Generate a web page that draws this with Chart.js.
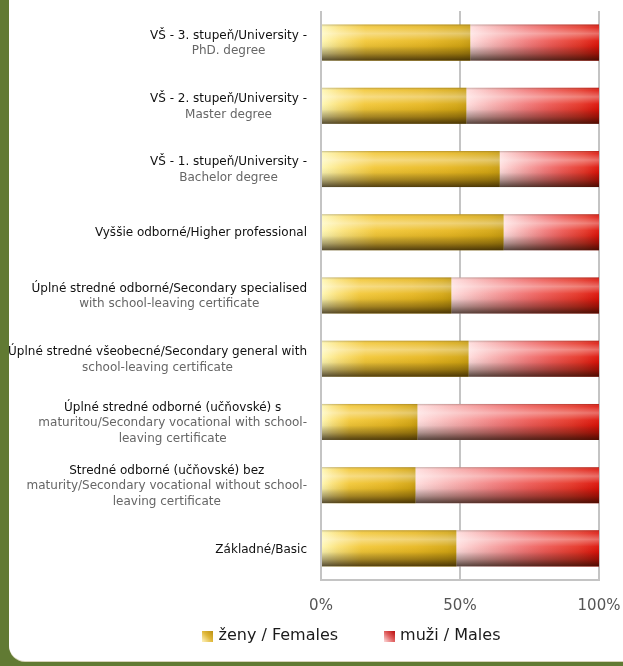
<!DOCTYPE html>
<html>
<head>
<meta charset="utf-8">
<script src="https://cdn.jsdelivr.net/npm/chart.js@4.4.1/dist/chart.umd.min.js"></script>
<style>
  html, body { margin: 0; padding: 0; background: #ffffff; }
  #frame { position: relative; width: 623px; height: 666px; background: #617a33; overflow: hidden; }
  #inner { position: absolute; left: 9px; top: 0; width: 614px; height: 661px; background: #ffffff;
           border-bottom-left-radius: 16px; box-shadow: 0 1px 0 #d6d3b8; }
  #wrap { position: absolute; left: 0; top: 0; width: 623px; height: 666px; }
</style>
</head>
<body>
<div id="frame">
  <div id="inner"></div>
  <div id="wrap"><canvas id="c" width="623" height="666"></canvas></div>
</div>
<script>
// ---- data ----
const categories = [
  ["VŠ - 3. stupeň/University -", "PhD. degree"],
  ["VŠ - 2. stupeň/University -", "Master degree"],
  ["VŠ - 1. stupeň/University -", "Bachelor degree"],
  ["Vyššie odborné/Higher professional"],
  ["Úplné stredné odborné/Secondary specialised", "with school-leaving certificate"],
  ["Úplné stredné všeobecné/Secondary general with", "school-leaving certificate"],
  ["Úplné stredné odborné (učňovské) s", "maturitou/Secondary vocational with school-", "leaving certificate"],
  ["Stredné odborné (učňovské) bez", "maturity/Secondary vocational without school-", "leaving certificate"],
  ["Základné/Basic"]
];
const females = [53.7, 52.3, 64.3, 65.7, 46.9, 53.1, 34.7, 34.0, 48.7];
const males   = [46.3, 47.7, 35.7, 34.3, 53.1, 46.9, 65.3, 66.0, 51.3];
const seriesNames = ["ženy / Females", "muži / Males"];
const xTicks = [0, 50, 100];

// ---- styling helpers ----
const femaleStops = [[0, '#fff8b4'], [0.12, '#fbe27a'], [0.3, '#f3c838'], [0.7, '#e8b822'], [0.93, '#d6a814'], [1, '#c99d10']];
const maleStops   = [[0, '#ffdcdc'], [0.2, '#f8b0b0'], [0.45, '#f27a7a'], [0.62, '#ee5a55'], [0.85, '#e63628'], [1, '#dc1208']];

function segGradient(chart, x0, x1, stops) {
  const g = chart.ctx.createLinearGradient(x0, 0, x1, 0);
  stops.forEach(s => g.addColorStop(s[0], s[1]));
  return g;
}

function makeIcon(c1, c2, c3) {
  const cv = document.createElement('canvas');
  cv.width = 11; cv.height = 11;
  const cx = cv.getContext('2d');
  const g = cx.createLinearGradient(0, 11, 11, 0);
  g.addColorStop(0, c1); g.addColorStop(0.5, c2); g.addColorStop(1, c3);
  cx.fillStyle = g; cx.fillRect(0, 0, 11, 11);
  return cv;
}
const icons = [makeIcon('#fff4c0', '#e0b83a', '#b98e10'), makeIcon('#ffe0e0', '#e06060', '#b80808')];

// overlay vertical shading on each bar
const shadePlugin = {
  id: 'shade',
  afterDatasetsDraw(chart) {
    const ctx = chart.ctx;
    chart.data.datasets.forEach((ds, di) => {
      const meta = chart.getDatasetMeta(di);
      meta.data.forEach(el => {
        const p = el.getProps(['x', 'y', 'base', 'height'], true);
        const left = Math.min(p.x, p.base), w = Math.abs(p.x - p.base);
        const top = p.y - p.height / 2, h = p.height;
        const g = ctx.createLinearGradient(0, top, 0, top + h);
        g.addColorStop(0, 'rgba(60,50,40,0.30)');
        g.addColorStop(0.07, 'rgba(255,255,255,0.10)');
        g.addColorStop(0.25, 'rgba(255,255,255,0.38)');
        g.addColorStop(0.45, 'rgba(255,255,255,0.05)');
        g.addColorStop(0.6, 'rgba(0,0,0,0.06)');
        g.addColorStop(0.8, 'rgba(20,10,0,0.35)');
        g.addColorStop(1, 'rgba(20,10,0,0.72)');
        ctx.save();
        ctx.fillStyle = g;
        ctx.fillRect(left, top, w, h);
        ctx.restore();
      });
    });
  }
};

// category labels: first line dark, following lines grey, centred block right-aligned to axis
const labelPlugin = {
  id: 'catLabels',
  afterDraw(chart) {
    const ctx = chart.ctx;
    const ys = chart.scales.y;
    const right = chart.chartArea.left - 14;
    const lh = 15.5;
    ctx.save();
    ctx.font = '12px "DejaVu Sans"';
    ctx.textAlign = 'center';
    ctx.textBaseline = 'middle';
    chart.data.labels.forEach((lines, i) => {
      const yc = ys.getPixelForTick(i) + 1;
      let maxW = 0;
      lines.forEach(t => { maxW = Math.max(maxW, ctx.measureText(t).width); });
      const cx = right - maxW / 2;
      const y0 = yc - (lines.length - 1) * lh / 2;
      lines.forEach((t, k) => {
        ctx.fillStyle = k === 0 ? '#111111' : '#666666';
        ctx.fillText(t, cx, y0 + k * lh);
      });
    });
    ctx.restore();
  }
};

const PAD_L = 106, PAD_R = 24;

const chart = new Chart(document.getElementById('c'), {
  type: 'bar',
  data: {
    labels: categories,
    datasets: [
      {
        label: seriesNames[0],
        data: females,
        backgroundColor: (c) => {
          const ch = c.chart;
          if (!ch.chartArea || !ch.scales.x) return '#e8b822';
          const xs = ch.scales.x;
          return segGradient(ch, xs.getPixelForValue(0), xs.getPixelForValue(females[c.dataIndex]), femaleStops);
        },
        borderWidth: 0,
        barPercentage: 0.57,
        categoryPercentage: 1
      },
      {
        label: seriesNames[1],
        data: males,
        backgroundColor: (c) => {
          const ch = c.chart;
          if (!ch.chartArea || !ch.scales.x) return '#ee5a55';
          const xs = ch.scales.x;
          const s = females[c.dataIndex];
          return segGradient(ch, xs.getPixelForValue(s), xs.getPixelForValue(s + males[c.dataIndex]), maleStops);
        },
        borderWidth: 0,
        barPercentage: 0.57,
        categoryPercentage: 1
      }
    ]
  },
  options: {
    indexAxis: 'y',
    responsive: false,
    animation: false,
    events: [],
    layout: { padding: { top: 11, right: PAD_R, bottom: 12, left: PAD_L } },
    scales: {
      x: {
        stacked: true,
        min: 0, max: 100,
        afterBuildTicks: (s) => { s.ticks = xTicks.map(v => ({ value: v })); },
        afterFit: (s) => { s.height = 0; },
        ticks: {
          callback: (v) => v + '%',
          color: '#555555',
          font: { family: '"DejaVu Sans"', size: 15 },
          mirror: true,
          padding: -35,
          maxRotation: 0
        },
        grid: { color: '#c4c4c4', lineWidth: 2, drawTicks: false },
        border: { display: true, color: '#c4c4c4', width: 2 }
      },
      y: {
        stacked: true,
        afterFit: (s) => { s.width = 321 - PAD_L; },
        ticks: { display: false },
        grid: { display: false },
        border: { display: false }
      }
    },
    plugins: {
      tooltip: { enabled: false },
      legend: {
        position: 'bottom',
        labels: {
          usePointStyle: true,
          boxWidth: 6,
          boxHeight: 16,
          padding: 48,
          color: '#1a1a1a',
          font: { family: '"DejaVu Sans"', size: 16 },
          generateLabels: (ch) => ch.data.datasets.map((ds, i) => ({
            text: ds.label,
            pointStyle: icons[i],
            fillStyle: 'transparent',
            strokeStyle: 'transparent',
            lineWidth: 0,
            hidden: false,
            datasetIndex: i,
            fontColor: '#1a1a1a'
          }))
        }
      }
    }
  },
  plugins: [shadePlugin, labelPlugin]
});
</script>
</body>
</html>
